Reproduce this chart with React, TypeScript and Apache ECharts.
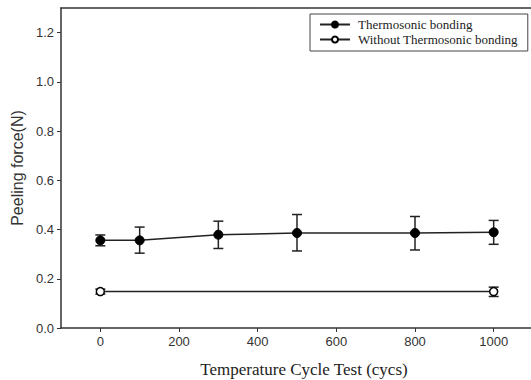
import React, { useEffect, useRef } from "react";
import * as echarts from "echarts";

const cycles = [0, 100, 300, 500, 800, 1000];
const thermoMean = [0.356, 0.356, 0.379, 0.386, 0.386, 0.389];
const thermoLow = [0.334, 0.304, 0.323, 0.313, 0.317, 0.34];
const thermoHigh = [0.378, 0.41, 0.434, 0.461, 0.453, 0.437];

const withoutCycles = [0, 1000];
const withoutMean = [0.148, 0.148];
const withoutLow = [0.138, 0.128];
const withoutHigh = [0.158, 0.166];

const xTicks = [0, 200, 400, 600, 800, 1000];
const yTicks = [0, 0.2, 0.4, 0.6, 0.8, 1.0, 1.2];

const seriesNames = ["Thermosonic bonding", "Without Thermosonic bonding"];

const INK = "#222";

function errorRender(params: any, api: any) {
  const x = api.value(0);
  const lo = api.coord([x, api.value(1)]);
  const hi = api.coord([x, api.value(2)]);
  const w = 5;
  const style = { stroke: INK, lineWidth: 1.5 };
  return {
    type: "group",
    children: [
      { type: "line", shape: { x1: lo[0], y1: lo[1], x2: hi[0], y2: hi[1] }, style },
      { type: "line", shape: { x1: lo[0] - w, y1: lo[1], x2: lo[0] + w, y2: lo[1] }, style },
      { type: "line", shape: { x1: hi[0] - w, y1: hi[1], x2: hi[0] + w, y2: hi[1] }, style },
    ],
  };
}

export default function App() {
  const ref = useRef<HTMLDivElement>(null);
  useEffect(() => {
    if (!ref.current) return;
    const chart = echarts.init(ref.current, undefined, { renderer: "svg" });
    const thermoErr = cycles.map((c, i) => [c, thermoLow[i], thermoHigh[i]]);
    const withoutErr = withoutCycles.map((c, i) => [c, withoutLow[i], withoutHigh[i]]);
    chart.setOption({
      animation: false,
      backgroundColor: "#fff",
      grid: {
        left: 61,
        top: 8,
        width: 472,
        height: 320,
        show: false,
        outerBoundsMode: "none",
        containLabel: false,
      },
      legend: {
        orient: "vertical",
        left: 310,
        top: 14,
        data: seriesNames,
        itemWidth: 30,
        itemHeight: 7.5,
        itemGap: 2,
        padding: [4, 10, 5, 9],
        borderColor: "#444",
        borderWidth: 1,
        textStyle: { fontFamily: "Liberation Serif", fontSize: 13, color: INK, padding: [0, 0, 0, 3] },
      },
      xAxis: [
        {
          type: "value",
          min: -100,
          max: 1100,
          name: "Temperature Cycle Test (cycs)",
          nameLocation: "middle",
          nameGap: 33,
          nameTextStyle: { fontFamily: "Liberation Serif", fontSize: 17, color: INK, padding: [0, 0, 0, 14] },
          axisLine: { onZero: false, lineStyle: { color: "#333", width: 1.5 } },
          axisTick: { show: true, inside: false, length: 4, customValues: xTicks, lineStyle: { color: "#333" } },
          axisLabel: {
            customValues: xTicks,
            fontFamily: "Liberation Sans",
            fontSize: 13,
            color: "#333",
            margin: 7,
            formatter: (v: number) => String(v),
          },
          splitLine: { show: false },
        },
        {
          type: "value",
          position: "top",
          min: -100,
          max: 1100,
          axisLine: { show: true, onZero: false, lineStyle: { color: "#333", width: 1.5 } },
          axisTick: { show: false },
          axisLabel: { show: false },
          splitLine: { show: false },
        },
      ],
      yAxis: {
        type: "value",
        min: 0,
        max: 1.3,
        name: "Peeling force(N)",
        nameLocation: "middle",
        nameGap: 35,
        nameTextStyle: { fontFamily: "Liberation Sans", fontSize: 16, color: "#333" },
        axisLine: { show: true, onZero: false, lineStyle: { color: "#333", width: 1.5 } },
        axisTick: { show: true, inside: false, length: 4, customValues: yTicks, lineStyle: { color: "#333" } },
        axisLabel: {
          customValues: yTicks,
          fontFamily: "Liberation Sans",
          fontSize: 13,
          color: "#333",
          margin: 7,
          formatter: (v: number) => v.toFixed(1),
        },
        splitLine: { show: false },
      },
      series: [
        {
          type: "custom",
          renderItem: errorRender,
          data: thermoErr,
          z: 1,
          silent: true,
        },
        {
          type: "custom",
          renderItem: errorRender,
          data: withoutErr,
          z: 1,
          silent: true,
        },
        {
          name: seriesNames[0],
          type: "line",
          data: cycles.map((c, i) => [c, thermoMean[i]]),
          symbol: "circle",
          symbolSize: 9,
          lineStyle: { color: INK, width: 1.5 },
          itemStyle: { color: "#000", borderColor: "#000", borderWidth: 1 },
          z: 3,
        },
        {
          name: seriesNames[1],
          type: "line",
          data: withoutCycles.map((c, i) => [c, withoutMean[i]]),
          symbol: "circle",
          symbolSize: 8,
          lineStyle: { color: INK, width: 1.5 },
          itemStyle: { color: "#fff", borderColor: "#000", borderWidth: 1.5 },
          z: 3,
        },
      ],
    });
    return () => chart.dispose();
  }, []);
  return (
    <div
      ref={ref}
      style={{ position: "absolute", left: 0, top: 0, width: 531, height: 380 }}
    />
  );
}
